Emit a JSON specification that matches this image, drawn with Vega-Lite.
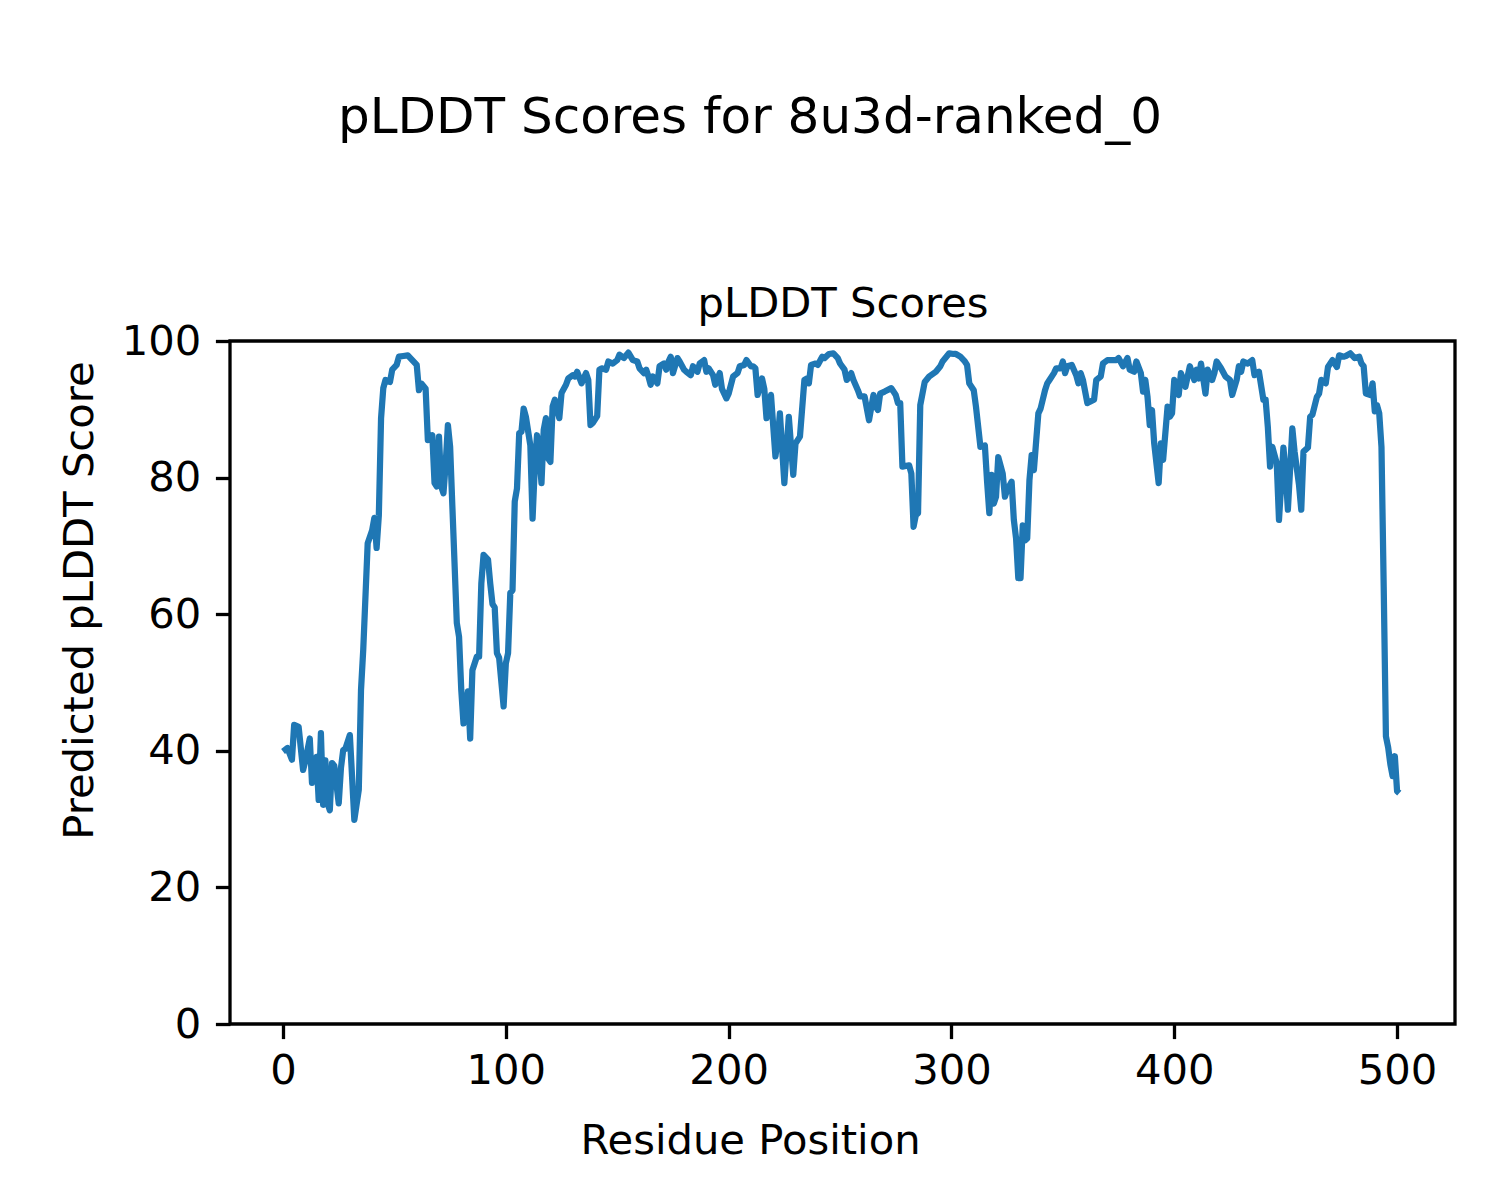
{
  "$schema": "https://vega.github.io/schema/vega-lite/v6.json",
  "width": 1225,
  "height": 683,
  "autosize": {"type": "none"},
  "padding": {"left": 230, "top": 341, "right": 45, "bottom": 176},
  "background": "white",
  "title": {
    "text": "pLDDT Scores for 8u3d-ranked_0",
    "font": "DejaVu Sans",
    "fontSize": 50,
    "fontWeight": "normal",
    "color": "black",
    "anchor": "middle",
    "frame": "group",
    "dx": -92.5,
    "baseline": "alphabetic",
    "offset": 100
  },
  "view": {"stroke": "black", "strokeWidth": 3.3},
  "data": {"values": [
    {"residue":0,"plddt":39.9},{"residue":2,"plddt":40.4},{"residue":4,"plddt":38.7},{"residue":5,"plddt":43.8},{"residue":7,"plddt":43.5},{"residue":9,"plddt":37.2},{"residue":10,"plddt":38.5},{"residue":12,"plddt":41.8},{"residue":13,"plddt":35.3},{"residue":15,"plddt":39.1},{"residue":16,"plddt":32.8},{"residue":17,"plddt":42.6},{"residue":18,"plddt":32.1},{"residue":19,"plddt":38.6},{"residue":20,"plddt":32.3},{"residue":21,"plddt":31.3},{"residue":22,"plddt":38.2},{"residue":23,"plddt":37.8},{"residue":25,"plddt":32.3},{"residue":26,"plddt":37.5},{"residue":27,"plddt":40.1},{"residue":28,"plddt":40.3},{"residue":30,"plddt":42.3},{"residue":32,"plddt":29.9},{"residue":34,"plddt":34.3},{"residue":35,"plddt":48.9},{"residue":36,"plddt":54.8},{"residue":38,"plddt":70.4},{"residue":40,"plddt":72.3},{"residue":41,"plddt":74.1},{"residue":42,"plddt":69.7},{"residue":43,"plddt":74.5},{"residue":44,"plddt":88.7},{"residue":45,"plddt":93.1},{"residue":46,"plddt":94.3},{"residue":48,"plddt":94.0},{"residue":49,"plddt":95.8},{"residue":51,"plddt":96.5},{"residue":52,"plddt":97.7},{"residue":54,"plddt":97.8},{"residue":56,"plddt":97.9},{"residue":58,"plddt":97.2},{"residue":60,"plddt":96.5},{"residue":61,"plddt":92.8},{"residue":62,"plddt":93.8},{"residue":64,"plddt":93.0},{"residue":65,"plddt":85.5},{"residue":67,"plddt":86.2},{"residue":68,"plddt":79.2},{"residue":69,"plddt":78.7},{"residue":70,"plddt":86.0},{"residue":71,"plddt":78.7},{"residue":72,"plddt":77.7},{"residue":73,"plddt":82.0},{"residue":74,"plddt":87.7},{"residue":75,"plddt":84.5},{"residue":76,"plddt":75.8},{"residue":78,"plddt":58.7},{"residue":79,"plddt":56.7},{"residue":80,"plddt":48.9},{"residue":81,"plddt":44.0},{"residue":83,"plddt":48.7},{"residue":84,"plddt":41.8},{"residue":85,"plddt":51.8},{"residue":87,"plddt":53.8},{"residue":88,"plddt":53.8},{"residue":89,"plddt":64.5},{"residue":90,"plddt":68.7},{"residue":92,"plddt":68.0},{"residue":93,"plddt":64.5},{"residue":94,"plddt":61.5},{"residue":95,"plddt":61.0},{"residue":96,"plddt":54.3},{"residue":97,"plddt":53.6},{"residue":99,"plddt":46.5},{"residue":100,"plddt":52.8},{"residue":101,"plddt":54.3},{"residue":102,"plddt":63.1},{"residue":103,"plddt":63.5},{"residue":104,"plddt":76.5},{"residue":105,"plddt":78.4},{"residue":106,"plddt":86.5},{"residue":107,"plddt":86.7},{"residue":108,"plddt":90.1},{"residue":109,"plddt":88.9},{"residue":111,"plddt":84.7},{"residue":112,"plddt":74.0},{"residue":113,"plddt":81.6},{"residue":114,"plddt":86.2},{"residue":115,"plddt":83.5},{"residue":116,"plddt":79.2},{"residue":117,"plddt":87.0},{"residue":118,"plddt":88.7},{"residue":119,"plddt":82.8},{"residue":120,"plddt":82.3},{"residue":121,"plddt":90.4},{"residue":122,"plddt":91.4},{"residue":124,"plddt":88.7},{"residue":125,"plddt":92.4},{"residue":127,"plddt":93.6},{"residue":128,"plddt":94.5},{"residue":130,"plddt":95.0},{"residue":131,"plddt":94.8},{"residue":132,"plddt":95.5},{"residue":134,"plddt":93.8},{"residue":136,"plddt":95.3},{"residue":137,"plddt":94.3},{"residue":138,"plddt":87.7},{"residue":139,"plddt":88.0},{"residue":141,"plddt":89.0},{"residue":142,"plddt":95.8},{"residue":143,"plddt":96.0},{"residue":145,"plddt":95.8},{"residue":146,"plddt":97.0},{"residue":148,"plddt":96.7},{"residue":150,"plddt":97.2},{"residue":151,"plddt":98.0},{"residue":153,"plddt":97.5},{"residue":155,"plddt":98.3},{"residue":157,"plddt":97.2},{"residue":159,"plddt":97.0},{"residue":160,"plddt":96.0},{"residue":162,"plddt":95.3},{"residue":163,"plddt":95.8},{"residue":164,"plddt":94.8},{"residue":165,"plddt":93.6},{"residue":166,"plddt":94.8},{"residue":168,"plddt":93.8},{"residue":169,"plddt":96.3},{"residue":171,"plddt":96.7},{"residue":172,"plddt":95.8},{"residue":173,"plddt":97.0},{"residue":174,"plddt":97.7},{"residue":175,"plddt":95.3},{"residue":177,"plddt":97.5},{"residue":178,"plddt":97.0},{"residue":180,"plddt":95.8},{"residue":181,"plddt":95.5},{"residue":183,"plddt":95.0},{"residue":184,"plddt":96.3},{"residue":186,"plddt":95.5},{"residue":187,"plddt":96.7},{"residue":189,"plddt":97.2},{"residue":190,"plddt":95.5},{"residue":191,"plddt":96.0},{"residue":193,"plddt":95.0},{"residue":194,"plddt":93.6},{"residue":196,"plddt":95.3},{"residue":197,"plddt":93.0},{"residue":199,"plddt":91.6},{"residue":200,"plddt":92.3},{"residue":202,"plddt":94.8},{"residue":204,"plddt":95.3},{"residue":205,"plddt":96.3},{"residue":207,"plddt":96.5},{"residue":208,"plddt":97.2},{"residue":210,"plddt":96.3},{"residue":211,"plddt":96.3},{"residue":212,"plddt":96.0},{"residue":213,"plddt":92.1},{"residue":215,"plddt":94.5},{"residue":216,"plddt":93.0},{"residue":217,"plddt":88.7},{"residue":218,"plddt":90.1},{"residue":219,"plddt":92.1},{"residue":221,"plddt":83.1},{"residue":222,"plddt":85.5},{"residue":223,"plddt":89.4},{"residue":225,"plddt":79.2},{"residue":227,"plddt":88.9},{"residue":229,"plddt":80.4},{"residue":230,"plddt":85.0},{"residue":232,"plddt":86.0},{"residue":234,"plddt":94.3},{"residue":235,"plddt":94.5},{"residue":236,"plddt":93.8},{"residue":237,"plddt":96.5},{"residue":239,"plddt":96.7},{"residue":240,"plddt":96.5},{"residue":242,"plddt":97.7},{"residue":243,"plddt":97.5},{"residue":245,"plddt":98.1},{"residue":247,"plddt":98.2},{"residue":249,"plddt":97.5},{"residue":250,"plddt":96.7},{"residue":252,"plddt":95.8},{"residue":253,"plddt":94.3},{"residue":255,"plddt":95.3},{"residue":256,"plddt":94.3},{"residue":258,"plddt":92.8},{"residue":259,"plddt":91.9},{"residue":261,"plddt":91.9},{"residue":263,"plddt":88.4},{"residue":265,"plddt":92.1},{"residue":266,"plddt":90.4},{"residue":267,"plddt":89.9},{"residue":268,"plddt":92.3},{"residue":270,"plddt":92.6},{"residue":273,"plddt":93.1},{"residue":275,"plddt":92.1},{"residue":276,"plddt":90.9},{"residue":277,"plddt":90.9},{"residue":278,"plddt":81.6},{"residue":281,"plddt":81.8},{"residue":282,"plddt":80.6},{"residue":283,"plddt":72.8},{"residue":284,"plddt":74.5},{"residue":285,"plddt":74.8},{"residue":286,"plddt":90.6},{"residue":288,"plddt":94.0},{"residue":290,"plddt":94.8},{"residue":293,"plddt":95.5},{"residue":295,"plddt":96.3},{"residue":296,"plddt":97.0},{"residue":299,"plddt":98.2},{"residue":301,"plddt":98.1},{"residue":302,"plddt":98.1},{"residue":304,"plddt":97.7},{"residue":306,"plddt":97.0},{"residue":307,"plddt":96.5},{"residue":308,"plddt":93.8},{"residue":310,"plddt":92.8},{"residue":311,"plddt":90.4},{"residue":313,"plddt":84.5},{"residue":315,"plddt":84.7},{"residue":316,"plddt":79.4},{"residue":317,"plddt":74.8},{"residue":318,"plddt":80.4},{"residue":319,"plddt":76.2},{"residue":320,"plddt":77.2},{"residue":321,"plddt":83.0},{"residue":323,"plddt":80.6},{"residue":324,"plddt":77.2},{"residue":325,"plddt":78.2},{"residue":327,"plddt":79.4},{"residue":328,"plddt":73.8},{"residue":329,"plddt":71.1},{"residue":330,"plddt":65.3},{"residue":331,"plddt":65.3},{"residue":332,"plddt":73.0},{"residue":333,"plddt":70.8},{"residue":334,"plddt":71.1},{"residue":335,"plddt":79.6},{"residue":336,"plddt":83.3},{"residue":337,"plddt":81.1},{"residue":339,"plddt":89.4},{"residue":340,"plddt":90.1},{"residue":342,"plddt":92.8},{"residue":343,"plddt":93.8},{"residue":344,"plddt":94.3},{"residue":346,"plddt":95.3},{"residue":347,"plddt":96.0},{"residue":349,"plddt":96.0},{"residue":350,"plddt":97.0},{"residue":351,"plddt":95.3},{"residue":352,"plddt":96.3},{"residue":354,"plddt":96.5},{"residue":356,"plddt":95.0},{"residue":357,"plddt":93.8},{"residue":358,"plddt":95.3},{"residue":359,"plddt":94.3},{"residue":361,"plddt":90.9},{"residue":362,"plddt":91.1},{"residue":364,"plddt":91.4},{"residue":365,"plddt":94.3},{"residue":367,"plddt":94.8},{"residue":368,"plddt":96.7},{"residue":370,"plddt":97.2},{"residue":372,"plddt":97.2},{"residue":374,"plddt":97.2},{"residue":375,"plddt":97.5},{"residue":377,"plddt":96.3},{"residue":379,"plddt":97.5},{"residue":380,"plddt":95.8},{"residue":382,"plddt":95.5},{"residue":383,"plddt":97.0},{"residue":385,"plddt":95.3},{"residue":386,"plddt":92.6},{"residue":387,"plddt":94.3},{"residue":388,"plddt":91.8},{"residue":389,"plddt":87.7},{"residue":390,"plddt":89.9},{"residue":391,"plddt":85.0},{"residue":393,"plddt":79.2},{"residue":394,"plddt":85.0},{"residue":395,"plddt":82.6},{"residue":397,"plddt":90.4},{"residue":398,"plddt":88.9},{"residue":399,"plddt":89.4},{"residue":400,"plddt":94.3},{"residue":402,"plddt":92.1},{"residue":403,"plddt":95.3},{"residue":405,"plddt":93.3},{"residue":407,"plddt":96.3},{"residue":409,"plddt":94.3},{"residue":410,"plddt":95.8},{"residue":411,"plddt":94.5},{"residue":412,"plddt":96.7},{"residue":414,"plddt":92.3},{"residue":415,"plddt":95.8},{"residue":417,"plddt":94.3},{"residue":418,"plddt":95.3},{"residue":419,"plddt":97.0},{"residue":421,"plddt":96.0},{"residue":423,"plddt":94.8},{"residue":425,"plddt":94.3},{"residue":426,"plddt":92.1},{"residue":428,"plddt":94.3},{"residue":429,"plddt":96.3},{"residue":430,"plddt":95.5},{"residue":431,"plddt":97.0},{"residue":433,"plddt":96.7},{"residue":435,"plddt":97.2},{"residue":436,"plddt":95.0},{"residue":437,"plddt":95.3},{"residue":438,"plddt":95.5},{"residue":440,"plddt":91.4},{"residue":441,"plddt":91.4},{"residue":442,"plddt":87.4},{"residue":443,"plddt":81.6},{"residue":444,"plddt":84.5},{"residue":446,"plddt":82.1},{"residue":447,"plddt":73.8},{"residue":449,"plddt":84.4},{"residue":450,"plddt":80.6},{"residue":451,"plddt":75.3},{"residue":453,"plddt":87.2},{"residue":454,"plddt":83.8},{"residue":456,"plddt":78.9},{"residue":457,"plddt":75.3},{"residue":458,"plddt":83.8},{"residue":460,"plddt":84.4},{"residue":461,"plddt":88.9},{"residue":462,"plddt":89.2},{"residue":464,"plddt":91.8},{"residue":465,"plddt":92.3},{"residue":466,"plddt":94.3},{"residue":468,"plddt":93.8},{"residue":469,"plddt":96.2},{"residue":471,"plddt":97.2},{"residue":473,"plddt":96.2},{"residue":474,"plddt":97.9},{"residue":476,"plddt":97.7},{"residue":477,"plddt":97.8},{"residue":479,"plddt":98.2},{"residue":481,"plddt":97.5},{"residue":483,"plddt":97.7},{"residue":484,"plddt":96.7},{"residue":485,"plddt":96.3},{"residue":486,"plddt":92.3},{"residue":488,"plddt":92.1},{"residue":489,"plddt":93.8},{"residue":490,"plddt":89.7},{"residue":491,"plddt":90.6},{"residue":492,"plddt":89.4},{"residue":493,"plddt":84.5},{"residue":494,"plddt":64.0},{"residue":495,"plddt":42.1},{"residue":496,"plddt":40.5},{"residue":497,"plddt":38.0},{"residue":498,"plddt":36.3},{"residue":499,"plddt":39.2},{"residue":500,"plddt":34.1},{"residue":501,"plddt":33.8}
  ]},
  "resolve": {"axis": {"x": "independent"}},
  "layer": [
    {
      "mark": {"type": "line", "color": "#1f77b4", "strokeWidth": 6.25, "strokeJoin": "round", "strokeCap": "butt", "clip": true},
      "encoding": {
        "x": {
          "field": "residue", "type": "quantitative",
          "scale": {"domain": [-23.8, 526.0], "nice": false, "zero": false},
          "axis": {
            "orient": "bottom",
            "values": [0, 100, 200, 300, 400, 500],
            "title": "Residue Position",
            "titleFont": "DejaVu Sans", "titleFontSize": 41.7, "titleFontWeight": "normal", "titleColor": "black",
            "titleX": 520, "titleY": 129, "titleAlign": "center", "titleBaseline": "alphabetic", "titleAnchor": null,
            "labelFont": "DejaVu Sans", "labelFontSize": 41.7, "labelColor": "black", "labelPadding": 12,
            "labelFlush": false, "labelOverlap": false,
            "tickColor": "black", "tickWidth": 3.3, "tickSize": 14.6,
            "domain": false, "grid": false
          }
        },
        "y": {
          "field": "plddt", "type": "quantitative",
          "scale": {"domain": [0, 100], "nice": false, "zero": true},
          "axis": {
            "values": [0, 20, 40, 60, 80, 100],
            "title": "Predicted pLDDT Score",
            "titleFont": "DejaVu Sans", "titleFontSize": 41.7, "titleFontWeight": "normal", "titleColor": "black",
            "titleX": -138, "titleY": 259, "titleAngle": -90, "titleAlign": "center", "titleBaseline": "alphabetic",
            "labelFont": "DejaVu Sans", "labelFontSize": 41.7, "labelColor": "black", "labelPadding": 14.6,
            "labelFlush": false, "labelOverlap": false, "labelBaseline": "middle",
            "tickColor": "black", "tickWidth": 3.3, "tickSize": 14.6,
            "domain": false, "grid": false
          }
        }
      }
    },
    {
      "mark": {"type": "line", "strokeOpacity": 0},
      "encoding": {
        "x": {
          "field": "residue", "type": "quantitative",
          "axis": {
            "orient": "top",
            "title": "pLDDT Scores",
            "titleFont": "DejaVu Sans", "titleFontSize": 41.7, "titleFontWeight": "normal", "titleColor": "black",
            "titleX": 612.5, "titleY": -25, "titleAlign": "center", "titleBaseline": "alphabetic",
            "labels": false, "ticks": false, "domain": false, "grid": false
          }
        },
        "y": {"field": "plddt", "type": "quantitative"}
      }
    }
  ]
}
